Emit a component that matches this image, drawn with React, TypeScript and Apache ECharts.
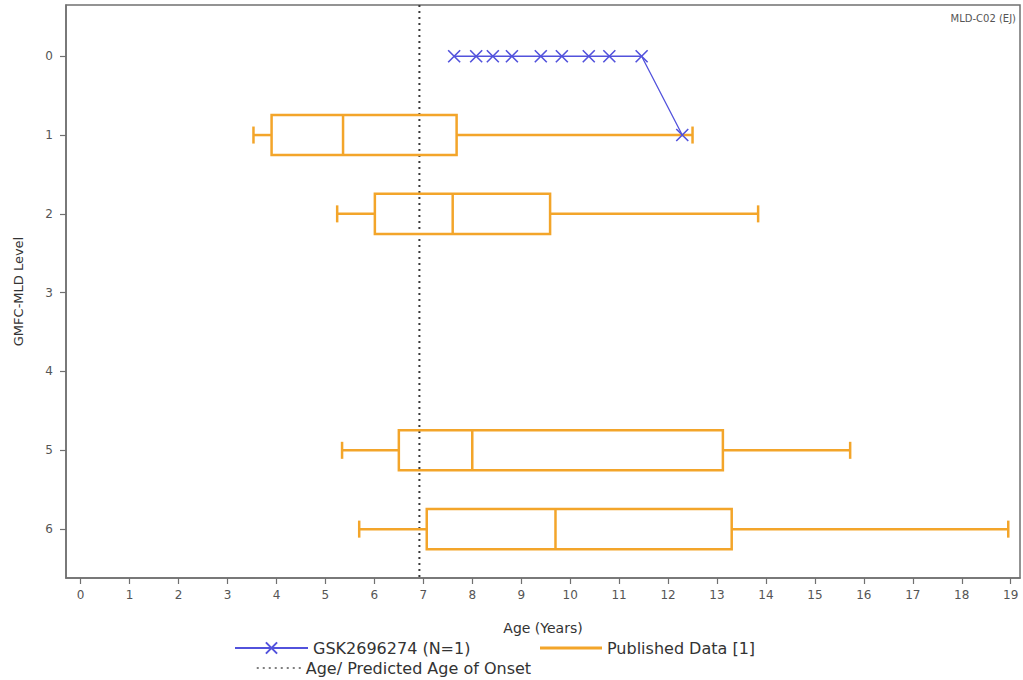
import React, { useEffect, useRef } from "react";
import * as echarts from "echarts";

// ---- data ----
const X_TICKS = [0, 1, 2, 3, 4, 5, 6, 7, 8, 9, 10, 11, 12, 13, 14, 15, 16, 17, 18, 19];
const Y_TICKS = [0, 1, 2, 3, 4, 5, 6];

const BOX_LEVELS = [1, 2, 5, 6];
const BOX_LOW = [3.53, 5.24, 5.34, 5.69];
const BOX_Q1 = [3.9, 6.01, 6.5, 7.07];
const BOX_MEDIAN = [5.36, 7.6, 8.0, 9.7];
const BOX_Q3 = [7.68, 9.59, 13.12, 13.3];
const BOX_HIGH = [12.5, 13.84, 15.72, 18.95];

const PATIENT_AGES = [7.63, 8.08, 8.42, 8.81, 9.4, 9.83, 10.38, 10.8, 11.46, 12.29];
const PATIENT_LEVELS = [0, 0, 0, 0, 0, 0, 0, 0, 0, 1];

const ONSET_AGE = 6.92;

const SERIES_PATIENT = "GSK2696274 (N=1)";
const SERIES_PUBLISHED = "Published Data [1]";
const SERIES_ONSET = "Age/ Predicted Age of Onset";

// ---- style ----
const X_MIN = -0.3;
const X_MAX = 19.19;
const Y_MIN = -0.65;
const Y_MAX = 6.62;
const ORANGE = "#f3a52a";
const BLUE = "#5252dc";
const AXIS_COLOR = "#707070";
const LABEL_COLOR = "#555555";
const FONT = "DejaVu Sans";
const BOX_HALF = 0.254;
const CAP_HALF = 0.108;

export default function App() {
  const ref = useRef<HTMLDivElement>(null);

  useEffect(() => {
    if (!ref.current) return;
    const chart = echarts.init(ref.current, undefined, { renderer: "svg" });

    const boxData = BOX_LEVELS.map((lvl, i) => [
      lvl,
      BOX_LOW[i],
      BOX_Q1[i],
      BOX_MEDIAN[i],
      BOX_Q3[i],
      BOX_HIGH[i],
    ]);
    const patientData = PATIENT_AGES.map((a, i) => [a, PATIENT_LEVELS[i]]);

    const renderBox = (params: any, api: any) => {
      const level = api.value(0);
      const pLo = api.coord([api.value(1), level]);
      const pQ1 = api.coord([api.value(2), level]);
      const pMed = api.coord([api.value(3), level]);
      const pQ3 = api.coord([api.value(4), level]);
      const pHi = api.coord([api.value(5), level]);
      const unit = api.size([0, 1])[1];
      const bh = unit * BOX_HALF;
      const ch = unit * CAP_HALF;
      const y = pLo[1];
      const st = { stroke: ORANGE, lineWidth: 2.5, fill: "none" };
      return {
        type: "group",
        children: [
          {
            type: "rect",
            shape: { x: pQ1[0], y: y - bh, width: pQ3[0] - pQ1[0], height: 2 * bh },
            style: st,
          },
          { type: "line", shape: { x1: pMed[0], y1: y - bh, x2: pMed[0], y2: y + bh }, style: st },
          { type: "line", shape: { x1: pLo[0], y1: y, x2: pQ1[0], y2: y }, style: st },
          { type: "line", shape: { x1: pQ3[0], y1: y, x2: pHi[0], y2: y }, style: st },
          { type: "line", shape: { x1: pLo[0], y1: y - ch, x2: pLo[0], y2: y + ch }, style: st },
          { type: "line", shape: { x1: pHi[0], y1: y - ch, x2: pHi[0], y2: y + ch }, style: st },
        ],
      };
    };

    const legendText = { fontFamily: FONT, fontSize: 16, color: "#333" };

    chart.setOption({
      animation: false,
      backgroundColor: "#ffffff",
      textStyle: { fontFamily: FONT },
      grid: {
        left: 66,
        right: 3,
        top: 5,
        bottom: 102,
        show: true,
        borderColor: AXIS_COLOR,
        borderWidth: 1.5,
        backgroundColor: "transparent",
        outerBoundsMode: "none",
        containLabel: false,
      },
      xAxis: {
        type: "value",
        min: X_MIN,
        max: X_MAX,
        name: "Age (Years)",
        nameLocation: "middle",
        nameGap: 43,
        nameTextStyle: { fontFamily: FONT, fontSize: 14, color: "#333" },
        axisLine: { show: true, onZero: false, lineStyle: { color: AXIS_COLOR, width: 1.5 } },
        axisTick: { show: true, inside: false, length: 6, customValues: X_TICKS, lineStyle: { color: AXIS_COLOR, width: 1.2 } },
        axisLabel: { customValues: X_TICKS, margin: 11, fontFamily: FONT, fontSize: 12, color: LABEL_COLOR },
        splitLine: { show: false },
      },
      yAxis: {
        type: "value",
        inverse: true,
        min: Y_MIN,
        max: Y_MAX,
        name: "GMFC-MLD Level",
        nameLocation: "middle",
        nameGap: 41,
        nameRotate: 90,
        nameTextStyle: { fontFamily: FONT, fontSize: 13, color: "#333" },
        axisLine: { show: true, onZero: false, lineStyle: { color: AXIS_COLOR, width: 1.5 } },
        axisTick: { show: true, inside: false, length: 6, customValues: Y_TICKS, lineStyle: { color: AXIS_COLOR, width: 1.2 } },
        axisLabel: { customValues: Y_TICKS, margin: 13, fontFamily: FONT, fontSize: 12, color: LABEL_COLOR },
        splitLine: { show: false },
      },
      legend: [
        {
          data: [{ name: SERIES_PATIENT }],
          left: 234,
          top: 640,
          padding: 0,
          itemWidth: 73,
          itemHeight: 14,
          selectedMode: false,
          textStyle: legendText,
        },
        {
          data: [{ name: SERIES_PUBLISHED, icon: "path://M0,0H100V5H0Z" }],
          left: 540,
          top: 640,
          padding: 0,
          itemWidth: 62,
          itemHeight: 14,
          selectedMode: false,
          textStyle: legendText,
        },
        {
          data: [
            {
              name: SERIES_ONSET,
              itemStyle: { opacity: 0, color: "transparent", borderColor: "transparent" },
            },
          ],
          left: 256,
          top: 660,
          padding: 0,
          itemWidth: 44,
          itemHeight: 14,
          selectedMode: false,
          textStyle: legendText,
          lineStyle: { color: "#555", width: 1.5, type: [2, 4] },
        },
      ],
      graphic: [
        {
          type: "text",
          right: 7,
          top: 13,
          style: { text: "MLD-C02 (EJ)", fontSize: 10, fontFamily: FONT, fill: "#555" },
        },
      ],
      series: [
        {
          name: SERIES_ONSET,
          type: "line",
          data: [
            [ONSET_AGE, Y_MIN],
            [ONSET_AGE, Y_MAX],
          ],
          symbol: "none",
          lineStyle: { color: "#3a3a3a", width: 2, type: [2, 4] },
          itemStyle: { color: "#3a3a3a" },
          z: 1,
          silent: true,
        },
        {
          name: SERIES_PUBLISHED,
          type: "custom",
          data: boxData,
          encode: { x: [1, 2, 3, 4, 5], y: 0 },
          renderItem: renderBox,
          itemStyle: { color: ORANGE },
          z: 2,
          silent: true,
        },
        {
          name: SERIES_PATIENT,
          type: "line",
          data: patientData,
          symbol: "path://M0,0L10,10M10,0L0,10",
          symbolSize: 12,
          lineStyle: { color: BLUE, width: 1.3 },
          itemStyle: { color: BLUE, borderColor: BLUE, borderWidth: 1.6 },
          z: 3,
          silent: true,
        },
      ],
    });

    return () => chart.dispose();
  }, []);

  return (
    <div
      ref={ref}
      style={{ position: "fixed", left: 0, top: 0, width: 1023, height: 680, background: "#fff" }}
    />
  );
}
